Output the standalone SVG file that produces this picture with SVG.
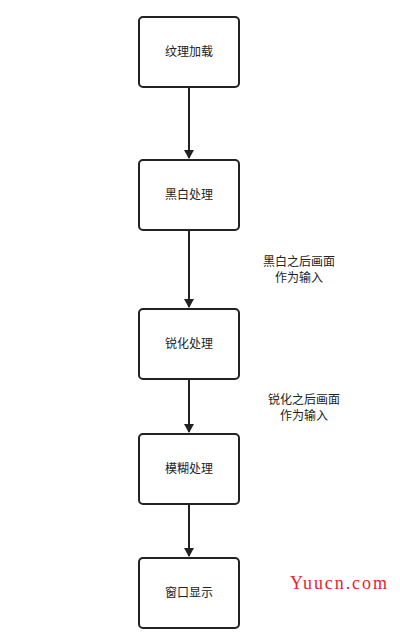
<svg xmlns="http://www.w3.org/2000/svg" width="400" height="638" viewBox="0 0 400 638">
<style>
.box{fill:#fff;stroke:#222;stroke-width:2}
.t{font-family:"Noto Sans CJK SC","Liberation Sans",sans-serif;font-size:12px;fill:#222;text-anchor:middle}
.e{stroke:#222;stroke-width:2;fill:none}
.wm{font-family:"Liberation Serif",serif;font-size:18px;fill:#e8242c}
</style>
<defs>
<marker id="arr" markerWidth="10" markerHeight="12" refX="8" refY="5" orient="auto" markerUnits="userSpaceOnUse" viewBox="0 0 10 10">
<path d="M0,0 L9,5 L0,10 Z" fill="#222"/>
</marker>
</defs>
<rect width="400" height="638" fill="#fff"/>
<g id="edges">
<line class="e" x1="189" y1="87" x2="189" y2="158" marker-end="url(#arr)"/>
<line class="e" x1="189" y1="230" x2="189" y2="307" marker-end="url(#arr)"/>
<line class="e" x1="189" y1="379" x2="189" y2="432" marker-end="url(#arr)"/>
<line class="e" x1="189" y1="504" x2="189" y2="556" marker-end="url(#arr)"/>
</g>
<g id="n1"><rect class="box" x="139" y="17" width="100" height="70" rx="4"/><text class="t" x="189" y="56">纹理加载</text></g>
<g id="n2"><rect class="box" x="139" y="160" width="100" height="70" rx="4"/><text class="t" x="189" y="199">黑白处理</text></g>
<g id="n3"><rect class="box" x="139" y="309" width="100" height="70" rx="4"/><text class="t" x="189" y="348">锐化处理</text></g>
<g id="n4"><rect class="box" x="139" y="434" width="100" height="70" rx="4"/><text class="t" x="189" y="473">模糊处理</text></g>
<g id="n5"><rect class="box" x="139" y="558" width="100" height="70" rx="4"/><text class="t" x="189" y="597">窗口显示</text></g>
<g id="l1"><text class="t" x="299" y="266">黑白之后画面</text><text class="t" x="299" y="282">作为输入</text></g>
<g id="l2"><text class="t" x="304" y="404">锐化之后画面</text><text class="t" x="304" y="420">作为输入</text></g>
<text class="wm" x="290" y="589" textLength="97" lengthAdjust="spacing">Yuucn.com</text>
</svg>
